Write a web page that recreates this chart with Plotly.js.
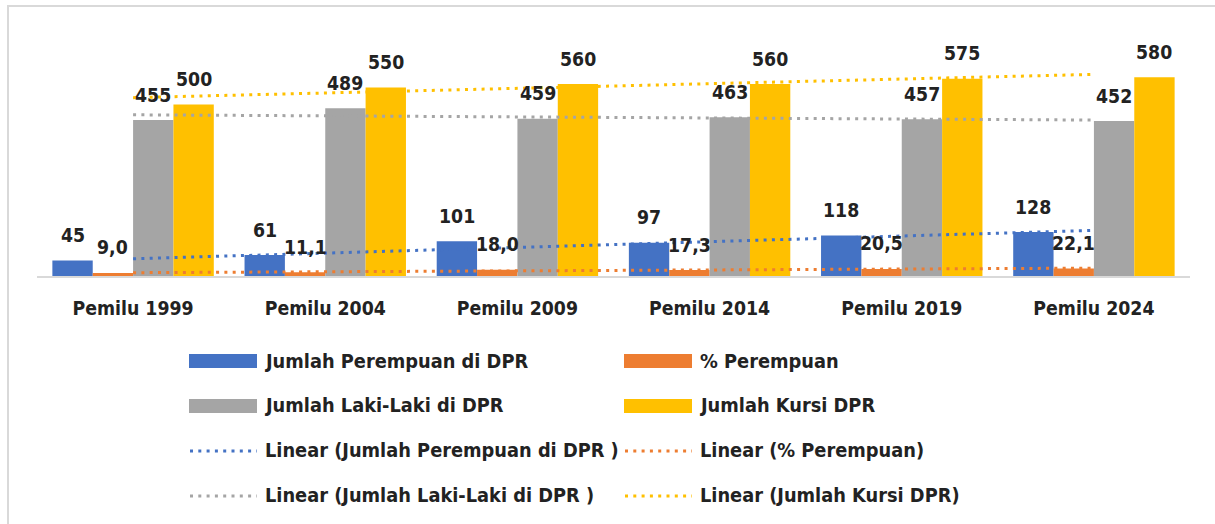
<!DOCTYPE html>
<html>
<head>
<meta charset="utf-8">
<script src="https://cdn.plot.ly/plotly-3.0.1.min.js"></script>
<style>
  html, body { margin: 0; padding: 0; background: #fff; }
  #chart { position: absolute; left: 0; top: 0; width: 1215px; height: 524px; }
  #frame { position: absolute; left: 7px; top: 5px; width: 1206px; height: 600px;
           border-left: 2px solid #d9d9d9; border-top: 2px solid #d9d9d9;
           pointer-events: none; z-index: 10; }
</style>
</head>
<body>
<div id="chart"></div>
<div id="frame"></div>
<script>
// ---- data ----
const categories = ['Pemilu 1999', 'Pemilu 2004', 'Pemilu 2009', 'Pemilu 2014', 'Pemilu 2019', 'Pemilu 2024'];
const jumlahPerempuan = [45, 61, 101, 97, 118, 128];
const persenPerempuan = [9.0, 11.1, 18.0, 17.3, 20.5, 22.1];
const jumlahLakiLaki = [455, 489, 459, 463, 457, 452];
const jumlahKursi = [500, 550, 560, 560, 575, 580];
const seriesNames = ['Jumlah Perempuan di DPR', '% Perempuan', 'Jumlah Laki-Laki di DPR', 'Jumlah Kursi DPR'];
const trendNames = ['Linear (Jumlah Perempuan di DPR )', 'Linear (% Perempuan)', 'Linear (Jumlah Laki-Laki di DPR )', 'Linear (Jumlah Kursi DPR)'];

// ---- styles ----
const colors = ['#4472C4', '#ED7D31', '#A5A5A5', '#FFC000'];
const seriesValues = [jumlahPerempuan, persenPerempuan, jumlahLakiLaki, jumlahKursi];
const FAMILY = '"DejaVu Sans Condensed", "DejaVu Sans", sans-serif';
const labelFont = { family: FAMILY, size: 19.3, color: '#222222', weight: 700 };
const legendFont = { family: FAMILY, size: 19.8, color: '#222222', weight: 700 };
const DOT = '3px,5.3px';

// linear trend (least squares over category index 1..n)
function linearFit(ys) {
  const n = ys.length;
  const xs = ys.map((_, i) => i + 1);
  const mx = xs.reduce((a, b) => a + b, 0) / n;
  const my = ys.reduce((a, b) => a + b, 0) / n;
  let sxy = 0, sxx = 0;
  for (let i = 0; i < n; i++) { sxy += (xs[i] - mx) * (ys[i] - my); sxx += (xs[i] - mx) ** 2; }
  const b = sxy / sxx, a = my - b * mx;
  return xs.map(x => a + b * x);
}

const traces = [];
seriesValues.forEach((vals, k) => {
  traces.push({
    type: 'bar', x: categories, y: vals, name: seriesNames[k],
    marker: { color: colors[k], line: { width: 0 } },
    showlegend: false, hoverinfo: 'x+y+name'
  });
});
seriesValues.forEach((vals, k) => {
  traces.push({
    type: 'scatter', mode: 'lines', x: categories, y: linearFit(vals), name: trendNames[k],
    line: { color: colors[k], width: 3, dash: DOT },
    showlegend: false, hoverinfo: 'skip'
  });
});

// geometry
const W = 1215, H = 524;
const margin = { l: 37, r: 25, t: 36, b: 248 };
const plotW = W - margin.l - margin.r, plotH = H - margin.t - margin.b;
const bargap = 0.16;
const barW = (1 - bargap) / 4;
const px2x = px => (px - margin.l) / plotW;
const py2y = py => (H - margin.b - py) / plotH;

// data labels
const annotations = [];
seriesValues.forEach((vals, k) => {
  vals.forEach((v, i) => {
    annotations.push({
      x: i + (k - 1.5) * barW, y: v, xref: 'x', yref: 'y',
      text: k === 1 ? v.toFixed(1).replace('.', ',') : String(v),
      showarrow: false, xanchor: 'center', yanchor: 'middle', yshift: 25,
      font: labelFont
    });
  });
});

// custom legend (2 columns x 4 rows)
const shapes = [];
const legendItems = [];
seriesNames.forEach((n, k) => legendItems.push({ name: n, color: colors[k], kind: 'bar' }));
trendNames.forEach((n, k) => legendItems.push({ name: n, color: colors[k], kind: 'line' }));
const colX = [189, 624];
const rowY = [361, 406, 451, 496];
const symW = 68;
legendItems.forEach((it, idx) => {
  const col = idx % 2, row = Math.floor(idx / 2);
  const x0 = colX[col], yc = rowY[row];
  if (it.kind === 'bar') {
    shapes.push({ type: 'rect', xref: 'paper', yref: 'paper',
      x0: px2x(x0), x1: px2x(x0 + symW), y0: py2y(yc + 7), y1: py2y(yc - 7),
      fillcolor: it.color, line: { width: 0 } });
  } else {
    shapes.push({ type: 'line', xref: 'paper', yref: 'paper',
      x0: px2x(x0 + 1), x1: px2x(x0 + symW), y0: py2y(yc), y1: py2y(yc),
      line: { color: it.color, width: 3, dash: DOT } });
  }
  annotations.push({ xref: 'paper', yref: 'paper', x: px2x(x0 + symW + 6), y: py2y(yc),
    xanchor: 'left', yanchor: 'middle', text: it.name, showarrow: false, font: legendFont });
});

const layout = {
  width: W, height: H, margin: margin,
  paper_bgcolor: '#ffffff', plot_bgcolor: 'rgba(0,0,0,0)',
  barmode: 'group', bargap: bargap, bargroupgap: 0,
  showlegend: false,
  xaxis: {
    type: 'category', showgrid: false, zeroline: false,
    showline: true, linecolor: '#d9d9d9', linewidth: 2,
    ticks: '', tickfont: labelFont, ticklabelstandoff: 14, fixedrange: true
  },
  yaxis: { range: [0, 700], visible: false, showgrid: false, zeroline: false, fixedrange: true },
  annotations: annotations,
  shapes: shapes
};

Plotly.newPlot('chart', traces, layout, { displayModeBar: false, staticPlot: true });
</script>
</body>
</html>
